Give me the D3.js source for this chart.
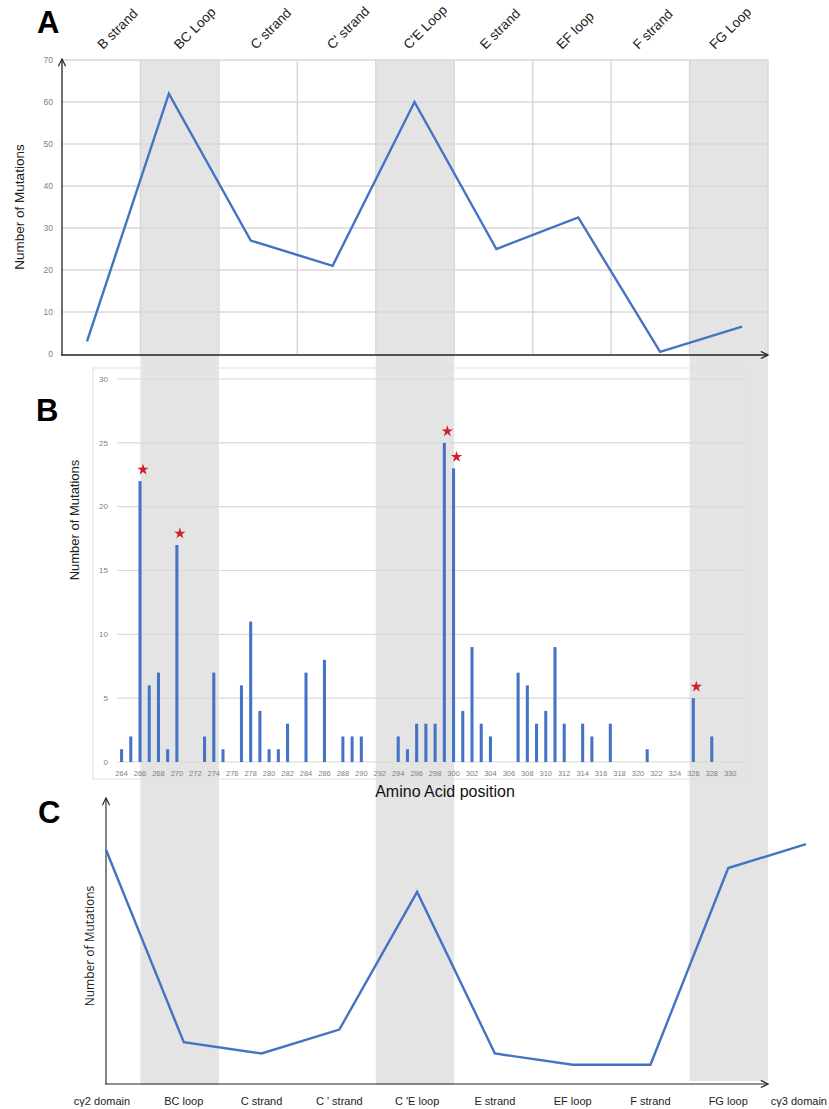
<!DOCTYPE html>
<html>
<head>
<meta charset="utf-8">
<script src="https://cdn.jsdelivr.net/npm/d3@7"></script>
<style>
  body { margin: 0; background: #fff; }
  text { font-family: "Liberation Sans", Arial, sans-serif; }
</style>
</head>
<body>
<svg id="fig" width="829" height="1109"></svg>
<script>
// ---------- Panel A: mutations per Ig-fold segment ----------
const segmentsA = ["B strand", "BC Loop", "C strand", "C' strand", "C'E Loop", "E strand", "EF loop", "F strand", "FG Loop"];
const mutationsA = [3, 62, 27, 21, 60, 25, 32.5, 0.5, 6.5];
const loopSegments = ["BC Loop", "C'E Loop", "FG Loop"];
const yTicksA = [0, 10, 20, 30, 40, 50, 60, 70];

// ---------- Panel B: mutations per amino-acid position ----------
const residues = [264, 265, 266, 267, 268, 269, 270, 271, 272, 273, 274, 275, 276, 277, 278, 279, 280, 281, 282, 283,
  284, 285, 286, 287, 288, 289, 290, 291, 292, 293, 294, 295, 296, 297, 298, 299, 300, 301, 302, 303,
  304, 305, 306, 307, 308, 309, 310, 311, 312, 313, 314, 315, 316, 317, 318, 319, 320, 321, 322, 323,
  324, 325, 326, 327, 328, 329, 330, 331];
const counts = [1, 2, 22, 6, 7, 1, 17, 0, 0, 2, 7, 1, 0, 6, 11, 4, 1, 1, 3, 0,
  7, 0, 8, 0, 2, 2, 2, 0, 0, 0, 2, 1, 3, 3, 3, 25, 23, 4, 9, 3,
  2, 0, 0, 7, 6, 3, 4, 9, 3, 0, 3, 2, 0, 3, 0, 0, 0, 1, 0, 0,
  0, 0, 5, 0, 2, 0, 0, 0];
const hotspots = [266, 270, 299, 300, 326];
const xTickLabelsB = [264, 266, 268, 270, 272, 274, 276, 278, 280, 282, 284, 286, 288, 290, 292, 294, 296, 298,
  300, 302, 304, 306, 308, 310, 312, 314, 316, 318, 320, 322, 324, 326, 328, 330];
const yTicksB = [0, 5, 10, 15, 20, 25, 30];

// ---------- Panel C: schematic mutation profile across the domain ----------
const regionsC = ["cγ2 domain", "BC loop", "C strand", "C ' strand", "C 'E loop", "E strand", "EF loop", "F strand", "FG loop", "cγ3 domain"];
const profileC = [83, 14.5, 10.5, 19, 68, 10.5, 6.5, 6.5, 76.5, 85];

const blue = "#4472c4";
const gridGrey = "#d9d9d9";
const tickGrey = "#7f7f7f";
const shade = "#e4e4e4";

const svg = d3.select("#fig");

// open chevron arrowhead for the hand-drawn axes
svg.append("defs").append("marker")
  .attr("id", "chev").attr("viewBox", "0 0 10 10")
  .attr("refX", 9).attr("refY", 5)
  .attr("markerWidth", 9).attr("markerHeight", 9)
  .attr("markerUnits", "userSpaceOnUse")
  .attr("orient", "auto")
  .append("path").attr("d", "M1,1 L9,5 L1,9")
  .attr("fill", "none").attr("stroke", "#222").attr("stroke-width", 1.3);

// shared column layout of the Ig segments (used for the loop shading)
const colA = d3.scaleBand().domain(segmentsA).range([62, 768]).paddingInner(0).paddingOuter(0);

// loop shading running through all three panels
svg.append("g").selectAll("rect").data(loopSegments).join("rect")
  .attr("x", d => colA(d))
  .attr("width", colA.bandwidth())
  .attr("y", 60)
  .attr("height", d => d === "FG Loop" ? 1021 : 1025)
  .attr("fill", shade);

// ======================= Panel A =======================
const yA = d3.scaleLinear().domain([0, 70]).range([354, 60]);
const xA = d3.scalePoint().domain(segmentsA).range([87, 742]);
const labelA = d3.scalePoint().domain(segmentsA).range([103, 715]);

const gA = svg.append("g");

// horizontal grid
gA.append("g").selectAll("line").data(yTicksA.filter(d => d > 0)).join("line")
  .attr("x1", 62).attr("x2", 768)
  .attr("y1", d => yA(d)).attr("y2", d => yA(d))
  .attr("stroke", gridGrey).attr("stroke-width", 1.5);

// vertical grid at segment boundaries
gA.append("g").selectAll("line").data(segmentsA.slice(1).concat(["end"])).join("line")
  .attr("x1", d => d === "end" ? 768 : colA(d))
  .attr("x2", d => d === "end" ? 768 : colA(d))
  .attr("y1", yA(70)).attr("y2", yA(0))
  .attr("stroke", gridGrey).attr("stroke-width", 1.5);

// y tick labels
gA.append("g").selectAll("text").data(yTicksA).join("text")
  .attr("x", 53).attr("y", d => yA(d)).attr("dy", "0.35em")
  .attr("text-anchor", "end")
  .attr("font-size", 8.5).attr("fill", tickGrey)
  .text(d => d);

// axes with arrowheads
gA.append("line").attr("x1", 62).attr("y1", 355).attr("x2", 62).attr("y2", 59)
  .attr("stroke", "#222").attr("stroke-width", 1.3).attr("marker-end", "url(#chev)");
gA.append("line").attr("x1", 61).attr("y1", 355).attr("x2", 768).attr("y2", 355)
  .attr("stroke", "#222").attr("stroke-width", 1.3).attr("marker-end", "url(#chev)");

// mutation line
gA.append("path")
  .datum(segmentsA.map((s, i) => [s, mutationsA[i]]))
  .attr("fill", "none").attr("stroke", blue).attr("stroke-width", 2.4)
  .attr("stroke-linejoin", "miter")
  .attr("d", d3.line().x(d => xA(d[0])).y(d => yA(d[1])));

// rotated segment names along the top
gA.append("g").selectAll("text").data(segmentsA).join("text")
  .attr("transform", d => `translate(${labelA(d)},50) rotate(-45)`)
  .attr("font-size", 13.5).attr("fill", "#222")
  .text(d => d);

// y title
gA.append("text")
  .attr("transform", "translate(24,207) rotate(-90)")
  .attr("text-anchor", "middle").attr("font-size", 13.5).attr("fill", "#222")
  .text("Number of Mutations");

// panel letter
svg.append("text").attr("x", 37).attr("y", 33)
  .attr("font-size", 31).attr("font-weight", "bold").attr("fill", "#000").text("A");

// ======================= Panel B =======================
const xB = d3.scaleBand().domain(residues).range([117, 744]).paddingInner(0.67).paddingOuter(0.33);
const yB = d3.scaleLinear().domain([0, 30]).range([762, 379]);
const gB = svg.append("g");

// chart frame
gB.append("rect").attr("x", 93).attr("y", 368).attr("width", 652).attr("height", 411)
  .attr("fill", "none").attr("stroke", "#e0e0e0").attr("stroke-width", 1);

// gridlines
gB.append("g").selectAll("line").data(yTicksB).join("line")
  .attr("x1", 117).attr("x2", 744)
  .attr("y1", d => yB(d)).attr("y2", d => yB(d))
  .attr("stroke", gridGrey).attr("stroke-width", 1.2);

// y tick labels
gB.append("g").selectAll("text").data(yTicksB).join("text")
  .attr("x", 108).attr("y", d => yB(d)).attr("dy", "0.35em")
  .attr("text-anchor", "end").attr("font-size", 8).attr("fill", tickGrey)
  .text(d => d);

// x tick labels
gB.append("g").selectAll("text").data(xTickLabelsB).join("text")
  .attr("x", d => xB(d) + xB.bandwidth() / 2).attr("y", 773).attr("dy", "0.35em")
  .attr("text-anchor", "middle").attr("font-size", 7.5).attr("fill", tickGrey)
  .text(d => d);

// bars
gB.append("g").selectAll("rect").data(residues.map((r, i) => ({ r, v: counts[i] })).filter(d => d.v > 0)).join("rect")
  .attr("x", d => xB(d.r)).attr("width", xB.bandwidth())
  .attr("y", d => yB(d.v)).attr("height", d => yB(0) - yB(d.v))
  .attr("fill", blue);

// hotspot stars
const star = d3.symbol().type(d3.symbolStar).size(40);
gB.append("g").selectAll("path").data(hotspots).join("path")
  .attr("d", star)
  .attr("transform", d => `translate(${xB(d) + xB.bandwidth() / 2 + 3},${yB(counts[residues.indexOf(d)] + 0.9)})`)
  .attr("fill", "#d0202a");

// titles
gB.append("text")
  .attr("transform", "translate(79,520) rotate(-90)")
  .attr("text-anchor", "middle").attr("font-size", 13).attr("fill", "#222")
  .text("Number of Mutations");
gB.append("text").attr("x", 445).attr("y", 797)
  .attr("text-anchor", "middle").attr("font-size", 16).attr("fill", "#111")
  .text("Amino Acid position");

svg.append("text").attr("x", 36).attr("y", 421)
  .attr("font-size", 31).attr("font-weight", "bold").attr("fill", "#000").text("B");

// ======================= Panel C =======================
const xC = d3.scalePoint().domain(regionsC).range([106, 806]);
const yC = d3.scaleLinear().domain([0, 100]).range([1083, 802]);
const gC = svg.append("g");

gC.append("line").attr("x1", 106).attr("y1", 1084).attr("x2", 106).attr("y2", 798)
  .attr("stroke", "#222").attr("stroke-width", 1.1).attr("marker-end", "url(#chev)");
gC.append("line").attr("x1", 105).attr("y1", 1084).attr("x2", 768).attr("y2", 1084)
  .attr("stroke", "#222").attr("stroke-width", 1.1).attr("marker-end", "url(#chev)");

gC.append("path")
  .datum(regionsC.map((s, i) => [s, profileC[i]]))
  .attr("fill", "none").attr("stroke", blue).attr("stroke-width", 2.4)
  .attr("d", d3.line().x(d => xC(d[0])).y(d => yC(d[1])));

// region names; the last one is kept inside the right edge
gC.append("g").selectAll("text").data(regionsC).join("text")
  .attr("x", (d, i) => i === regionsC.length - 1 ? 827 : xC(d) - (i === 0 ? 4 : 0))
  .attr("y", 1105)
  .attr("text-anchor", (d, i) => i === regionsC.length - 1 ? "end" : "middle")
  .attr("font-size", 11).attr("fill", "#222")
  .text(d => d);

gC.append("text")
  .attr("transform", "translate(94,946) rotate(-90)")
  .attr("text-anchor", "middle").attr("font-size", 12)
  .attr("style", "font-family:'Open Sans',sans-serif").attr("fill", "#222")
  .text("Number of Mutations");

svg.append("text").attr("x", 38).attr("y", 823)
  .attr("font-size", 31).attr("font-weight", "bold").attr("fill", "#000").text("C");
</script>
</body>
</html>
